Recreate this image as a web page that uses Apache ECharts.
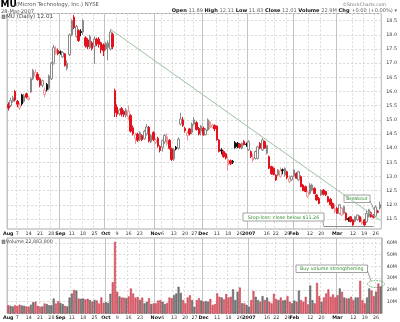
<!DOCTYPE html>
<html>
<head>
<meta charset="utf-8">
<title>MU daily</title>
<script src="https://cdn.jsdelivr.net/npm/echarts@6.0.0/dist/echarts.min.js"></script>
<style>
html,body{margin:0;padding:0;background:#fff;}
#chart{width:400px;height:322px;}
</style>
</head>
<body>
<div id="chart"></div>
<script>
// Trading sessions, by month (day of month)
const sessions = {
  '2006-08': [1,2,3,4,7,8,9,10,11,14,15,16,17,18,21,22,23,24,25,28,29,30,31],
  '2006-09': [1,5,6,7,8,11,12,13,14,15,18,19,20,21,22,25,26,27,28,29],
  '2006-10': [2,3,4,5,6,9,10,11,12,13,16,17,18,19,20,23,24,25,26,27,30,31],
  '2006-11': [1,2,3,6,7,8,9,10,13,14,15,16,17,20,21,22,24,27,28,29,30],
  '2006-12': [1,4,5,6,7,8,11,12,13,14,15,18,19,20,21,22,26,27,28,29],
  '2007-01': [3,4,5,8,9,10,11,12,16,17,18,19,22,23,24,25,26,29,30,31],
  '2007-02': [1,2,5,6,7,8,9,12,13,14,15,16,20,21,22,23,26,27,28],
  '2007-03': [1,2,5,6,7,8,9,12,13,14,15,16,19,20,21,22,23,26,27,28]
};

// Daily prices (USD)
const open = [
  15.54,15.50,15.65,16.00,15.66,15.42,15.88,15.65,15.92,15.72,
  15.98,16.45,16.55,16.60,16.45,16.22,15.90,16.25,16.10,16.45,
  17.00,17.35,17.45,17.40,17.22,17.33,16.82,17.30,18.00,18.62,
  17.95,18.15,18.12,18.10,17.90,17.82,17.55,17.72,17.60,17.85,
  17.85,17.72,17.65,17.50,17.55,17.50,18.02,16.03,15.45,15.22,
  15.40,15.30,15.15,15.10,15.15,14.72,14.35,14.50,14.30,14.45,
  14.33,14.50,14.74,14.22,14.55,14.20,14.35,14.06,14.03,14.22,
  14.15,14.28,13.98,13.62,14.03,14.00,14.85,15.00,14.70,14.45,
  14.68,14.55,14.85,14.90,14.70,14.60,14.70,14.48,14.64,14.72,
  14.74,14.80,14.78,14.29,13.94,13.88,13.80,13.40,13.56,13.54,
  14.20,14.17,14.15,14.00,14.24,14.15,13.94,13.88,13.58,13.64,
  13.64,14.17,13.94,14.23,13.82,13.70,13.35,13.29,13.05,13.05,
  13.00,13.24,13.05,13.17,12.82,12.88,13.00,13.11,12.88,13.00,
  12.70,12.64,12.30,12.40,12.52,12.58,12.35,12.23,12.35,12.52,
  12.47,12.29,12.20,12.05,11.76,11.88,11.70,11.64,11.70,11.70,
  11.52,11.58,11.47,11.41,11.47,11.58,11.35,11.47,11.40,11.58,
  11.72,11.64,11.60,11.78,11.89
];
const high = [
  15.62,15.78,15.85,16.05,15.70,15.60,15.92,15.92,15.96,15.85,
  16.50,16.80,16.78,16.68,16.50,16.42,16.15,16.30,16.60,17.05,
  17.65,17.60,17.52,17.45,17.42,17.36,17.10,18.05,18.55,18.70,
  18.35,18.20,18.20,18.55,17.95,17.88,18.00,17.78,17.95,17.90,
  17.92,17.76,17.70,17.75,17.80,18.20,18.08,16.10,15.55,15.40,
  15.45,15.35,15.42,15.50,15.20,14.80,14.55,14.55,14.60,14.50,
  14.65,14.85,14.78,14.50,14.60,14.35,14.40,14.10,14.30,14.50,
  14.52,14.32,14.02,14.00,14.08,14.38,15.25,15.10,14.75,14.60,
  14.72,14.90,15.10,14.95,14.75,14.82,14.76,14.70,15.05,14.98,
  14.86,14.84,14.80,14.32,14.00,13.92,13.84,13.72,13.60,13.58,
  14.25,14.22,14.18,14.20,14.28,14.20,14.28,13.92,13.80,13.92,
  14.08,14.22,14.35,14.27,14.12,13.74,13.38,13.32,13.08,13.26,
  13.32,13.28,13.32,13.20,13.04,13.04,13.26,13.15,13.20,13.04,
  12.74,12.68,12.50,12.76,12.75,12.62,12.38,12.28,12.55,12.56,
  12.50,12.32,12.24,12.08,12.02,11.92,12.03,11.92,11.97,11.74,
  11.56,11.60,11.50,11.60,11.66,11.62,11.55,11.50,11.82,11.86,
  11.76,11.67,11.98,11.82,12.11
];
const low = [
  15.33,15.45,15.60,15.65,15.45,15.35,15.50,15.60,15.75,15.68,
  15.95,16.40,16.50,16.38,16.15,16.15,15.80,16.00,16.05,16.40,
  16.95,17.30,17.28,17.30,17.18,16.88,16.74,17.25,17.95,18.20,
  17.90,17.75,17.95,18.00,17.55,17.50,17.50,17.45,16.98,17.60,
  17.55,17.35,17.25,17.45,17.10,17.45,17.50,15.10,15.10,15.15,
  15.12,15.10,15.08,15.00,14.55,14.45,14.15,14.22,14.25,14.25,
  14.30,14.45,14.20,14.18,14.25,14.15,14.02,13.85,13.88,14.15,
  14.10,13.95,13.55,13.55,13.92,13.95,14.80,14.75,14.55,14.27,
  14.45,14.50,14.80,14.62,14.45,14.45,14.44,14.45,14.60,14.66,
  14.70,14.60,14.26,13.85,13.78,13.66,13.60,13.20,13.40,13.44,
  13.98,14.00,13.98,13.96,14.10,14.05,13.90,13.65,13.52,13.60,
  13.60,13.96,13.90,13.98,13.78,13.26,13.06,13.04,12.84,13.00,
  12.96,13.08,13.00,12.90,12.78,12.85,12.98,12.92,12.85,12.62,
  12.48,12.45,12.25,12.36,12.48,12.38,12.15,12.02,12.30,12.33,
  12.31,12.08,11.97,11.85,11.70,11.68,11.66,11.60,11.66,11.44,
  11.40,11.38,11.26,11.38,11.44,11.38,11.30,11.26,11.36,11.55,
  11.55,11.52,11.56,11.70,11.83
];
const close = [
  15.42,15.68,15.78,15.70,15.55,15.52,15.56,15.85,15.80,15.78,
  16.45,16.75,16.68,16.42,16.22,16.38,16.05,16.06,16.55,17.00,
  17.55,17.50,17.33,17.36,17.38,16.92,17.00,18.00,18.50,18.25,
  18.30,17.80,18.08,18.50,17.62,17.58,17.95,17.52,17.85,17.68,
  17.66,17.47,17.44,17.70,17.72,18.10,17.58,15.25,15.20,15.35,
  15.20,15.18,15.35,15.30,14.60,14.50,14.47,14.28,14.55,14.30,
  14.60,14.75,14.25,14.45,14.30,14.28,14.08,13.92,14.27,14.45,
  14.40,14.00,13.60,13.95,13.97,14.32,15.03,14.80,14.62,14.55,
  14.50,14.85,15.00,14.66,14.50,14.78,14.47,14.65,15.00,14.94,
  14.82,14.68,14.30,13.88,13.90,13.70,13.65,13.60,13.45,13.50,
  14.02,14.05,14.03,14.17,14.12,14.13,14.23,13.70,13.68,13.88,
  14.05,14.00,14.29,14.00,14.10,13.29,13.10,13.08,12.88,13.23,
  13.20,13.21,13.29,12.96,12.92,13.00,13.23,12.94,13.17,12.64,
  12.50,12.47,12.45,12.70,12.70,12.40,12.17,12.05,12.52,12.37,
  12.35,12.11,12.00,11.88,11.86,11.70,12.00,11.88,11.94,11.47,
  11.48,11.41,11.29,11.58,11.64,11.41,11.40,11.29,11.70,11.82,
  11.58,11.56,11.92,11.74,12.01
];
const priorClose = 15.60;

// Daily volume, millions of shares
const volume = [
  7,6.5,6,7,6.5,7.5,6.8,6.5,6,5.8,
  7.5,9.5,10,6.5,5.8,6,8.5,8,7,7,
  12.7,8.5,10.5,9,8,6.5,6,13.6,17,20,
  19.5,12.7,12.5,12.7,12,12.5,11.5,10,11.5,11,
  8.5,13.6,9,9.5,9,16.8,26.6,60.9,18.5,14.5,
  13.5,13.5,13,14.5,21.3,17,13.5,14,11.4,13.5,
  8.6,10,13,8,8.6,8.6,11,11.4,10,8,
  9,13.6,13,15.5,17,22.7,17.5,11.4,8.6,13.6,
  15.5,11.4,5.7,11.4,13,11,10,10.5,10,12.5,
  7.3,8,17.1,14.2,13.6,12,16.5,13.6,14.2,20.5,
  11.4,18.5,22,8.6,8.6,7.3,5.7,11.4,19.2,14.2,
  11.4,10,14.8,11.4,13.6,10,8.6,16.8,12.3,11.4,
  13.6,11,11.4,14.8,10,8.6,11,10,19.5,11.4,
  10,14.2,7.8,23.8,11.4,8.6,26.1,14.8,10,13.6,
  17,20.5,14.2,16.2,13.6,15.5,21.3,18.5,13.6,12.8,
  12.8,14.2,11.4,13.6,13.6,27.8,11.4,8.6,13.6,21.3,
  19.5,14.8,18.5,25.5,22.8838
];

// Date-axis tick labels
const tickLabels = {
  '2006-08-01':'Aug','2006-08-07':'7','2006-08-14':'14','2006-08-21':'21','2006-08-28':'28',
  '2006-09-01':'Sep','2006-09-11':'11','2006-09-18':'18','2006-09-25':'25',
  '2006-10-02':'Oct','2006-10-09':'9','2006-10-16':'16','2006-10-23':'23',
  '2006-11-01':'Nov','2006-11-06':'6','2006-11-13':'13','2006-11-20':'20','2006-11-27':'27',
  '2006-12-01':'Dec','2006-12-11':'11','2006-12-18':'18','2006-12-26':'26',
  '2007-01-03':'2007','2007-01-16':'16','2007-01-22':'22','2007-01-29':'29',
  '2007-02-01':'Feb','2007-02-12':'12','2007-02-20':'20',
  '2007-03-01':'Mar','2007-03-12':'12','2007-03-19':'19','2007-03-26':'26'
};
const monthLabels = ['Aug','Sep','Oct','Nov','Dec','2007','Feb','Mar'];

// Trendline anchors and stop level
const trendStart = {index: 45, price: 18.20};
const trendEnd = {index: 164, price: 11.45};
const stopLevel = 11.26;
const stopSpan = [139, 161];

const dates = [];
Object.keys(sessions).forEach(function (ym) {
  sessions[ym].forEach(function (d) { dates.push(ym + '-' + (d < 10 ? '0' : '') + d); });
});

const FONT = "'DejaVu Sans', Verdana, sans-serif";
const RED = '#e3121c', PINK = '#f29494', GREY = '#8a8a8a', BLACK = '#111111';

function isTick(v) { return Object.prototype.hasOwnProperty.call(tickLabels, v); }
function isMonth(v) { return isTick(v) && monthLabels.indexOf(tickLabels[v]) >= 0; }
function onStep(v, step) { const q = v / step; return Math.abs(q - Math.round(q)) < 1e-6; }
function isDown(i) { return close[i] < (i === 0 ? priorClose : close[i - 1]); }

const candleData = dates.map(function (d, i) {
  const hollow = close[i] >= open[i];
  const down = isDown(i);
  const c = down ? (hollow ? PINK : RED) : (hollow ? GREY : BLACK);
  const fill = hollow ? '#ffffff' : c;
  return {
    value: [open[i], close[i], low[i], high[i]],
    itemStyle: {color: fill, color0: fill, borderColor: c, borderColor0: c, borderWidth: 1}
  };
});

const volumeData = volume.map(function (v, i) {
  const down = isDown(i);
  return {
    value: v,
    itemStyle: {
      color: down ? '#e2636f' : '#818181',
      borderColor: down ? '#c03444' : '#4a4a4a',
      borderWidth: 0.5
    }
  };
});

function dateAxes(gridIndex) {
  return [
    {
      type: 'category', gridIndex: gridIndex, data: dates, boundaryGap: true,
      axisLine: {show: false}, axisTick: {show: false},
      axisLabel: {
        interval: function (i, v) { return isTick(v); },
        formatter: function (v) { return isMonth(v) ? '{b|' + tickLabels[v] + '}' : tickLabels[v]; },
        fontSize: 4.8, fontFamily: FONT, color: '#333', margin: 2,
        rich: {b: {fontSize: 4.8, fontFamily: FONT, fontWeight: 'bold', color: '#111'}}
      },
      splitLine: {
        show: true,
        interval: function (i, v) { return isTick(v) && !isMonth(v); },
        lineStyle: {color: '#dadada', width: 1, type: [2, 2]}
      }
    },
    {
      type: 'category', gridIndex: gridIndex, data: dates, boundaryGap: true, position: 'bottom',
      axisLine: {show: false}, axisTick: {show: false}, axisLabel: {show: false},
      splitLine: {
        show: true,
        interval: function (i, v) { return isMonth(v); },
        lineStyle: {color: '#c2c2c2', width: 1}
      }
    }
  ];
}

const chart = echarts.init(document.getElementById('chart'), null, {renderer: 'canvas'});

chart.setOption({
  animation: false,
  backgroundColor: '#ffffff',
  grid: [
    {left: 1, right: 18, top: 13.5, bottom: 93, show: true, borderColor: '#a8a8a8', borderWidth: 1, containLabel: false},
    {left: 1, right: 18, top: 238, bottom: 8.5, show: true, borderColor: '#a8a8a8', borderWidth: 1, containLabel: false}
  ],
  xAxis: dateAxes(0).concat(dateAxes(1)),
  yAxis: [
    {
      type: 'value', gridIndex: 0, position: 'right', min: 11.147, max: 18.754,
      minInterval: 0.5, maxInterval: 0.5, splitNumber: 15,
      axisLine: {show: false}, axisTick: {show: false},
      axisLabel: {
        fontSize: 4.8, fontFamily: FONT, color: '#333', margin: 5,
        formatter: function (v) { return onStep(v, 0.5) ? v.toFixed(1) : ''; }
      },
      splitLine: {lineStyle: {color: '#d6d6d6', width: 1, type: [2, 2]}}
    },
    {
      type: 'value', gridIndex: 1, position: 'right', min: 0, max: 64.1,
      minInterval: 10, maxInterval: 10, splitNumber: 6,
      axisLine: {show: false}, axisTick: {show: false},
      axisLabel: {
        fontSize: 4.8, fontFamily: FONT, color: '#333', margin: 5,
        formatter: function (v) { return (v > 0 && onStep(v, 10)) ? v + 'M' : ''; }
      },
      splitLine: {lineStyle: {color: '#d6d6d6', width: 1, type: [2, 2]}}
    }
  ],
  series: [
    {
      name: 'MU', type: 'candlestick', xAxisIndex: 0, yAxisIndex: 0,
      barWidth: 2, data: candleData,
      markLine: {
        silent: true, symbol: ['none', 'none'], animation: false, label: {show: false},
        data: [
          [
            {coord: [dates[trendStart.index], trendStart.price], lineStyle: {color: '#9fc29f', width: 1, type: 'solid'}},
            {coord: [dates[trendEnd.index], trendEnd.price]}
          ],
          [
            {coord: [dates[stopSpan[0]], stopLevel], lineStyle: {color: '#8c8c8c', width: 1, type: 'solid'}},
            {coord: [dates[stopSpan[1]], stopLevel]}
          ]
        ]
      }
    },
    {
      name: 'Volume', type: 'bar', xAxisIndex: 2, yAxisIndex: 1,
      barWidth: '86%', data: volumeData
    }
  ]
});

// Header, legends and annotations
const pricePt = function (i, p) { return chart.convertToPixel({seriesIndex: 0}, [dates[i], p]); };
const volPt = function (i, v) { return chart.convertToPixel({seriesIndex: 1}, [dates[i], v]); };
const breakoutPt = pricePt(162, 11.71);
const stopPt = pricePt(stopSpan[0], stopLevel);
const ringPt = volPt(162, 25);
const GREEN = '#2f8f2f';
const last = close.length - 1;

function box(x, y, w, h, label) {
  return {
    type: 'group', x: x, y: y,
    children: [
      {type: 'rect', shape: {x: 0, y: 0, width: w, height: h}, style: {fill: '#ffffff', stroke: '#8a8a8a', lineWidth: 0.8}},
      {type: 'text', x: w / 2, y: h / 2 + 0.3, style: {text: label, font: '4.8px ' + FONT, fill: GREEN, textAlign: 'center', textVerticalAlign: 'middle'}}
    ]
  };
}

chart.setOption({
  graphic: [
    {type: 'text', x: 0.5, y: 4.8, style: {text: 'MU', font: 'bold 9px ' + FONT, fill: '#000', textVerticalAlign: 'middle'}},
    {type: 'text', x: 16, y: 5, style: {text: '(Micron Technology, Inc.) NYSE', font: '5.4px ' + FONT, fill: '#555', textVerticalAlign: 'middle'}},
    {type: 'text', x: 1, y: 11.2, style: {text: '28-Mar-2007', font: '5.2px ' + FONT, fill: '#555', textVerticalAlign: 'middle'}},
    {type: 'text', x: 386, y: 4.5, style: {text: '\u00A9StockCharts.com', font: '4.6px ' + FONT, fill: '#777', textAlign: 'right', textVerticalAlign: 'middle'}},
    {
      type: 'text', x: 397, y: 11,
      style: {
        text: '{b|Open} ' + open[last].toFixed(2) + ' {b|High} ' + high[last].toFixed(2) +
              ' {b|Low} ' + low[last].toFixed(2) + ' {b|Close} ' + close[last].toFixed(2) +
              ' {b|Volume} ' + volume[last].toFixed(1) + 'M {b|Chg} +0.00 (+0.00%) \u25BE',
        font: '5.1px ' + FONT, fill: '#666', textAlign: 'right', textVerticalAlign: 'middle',
        rich: {b: {fontSize: 5.1, fontFamily: FONT, fontWeight: 'bold', fill: '#111'}}
      }
    },
    {type: 'rect', shape: {x: 2, y: 15, width: 3, height: 3.5}, style: {fill: '#9a9a9a', stroke: '#555', lineWidth: 0.5}},
    {type: 'text', x: 6, y: 17, style: {text: 'MU (Daily) ' + close[last].toFixed(2), font: '5.6px ' + FONT, fill: '#444', textVerticalAlign: 'middle'}},
    {type: 'rect', shape: {x: 2, y: 240, width: 3, height: 3.5}, style: {fill: '#9a9a9a', stroke: '#555', lineWidth: 0.5}},
    {type: 'text', x: 6, y: 242, style: {text: 'Volume ' + Math.round(volume[last] * 1e6).toLocaleString('en-US'), font: '4.8px ' + FONT, fill: '#444', textVerticalAlign: 'middle'}},

    box(344, 195, 26, 7.5, 'Breakout'),
    {type: 'line', shape: {x1: 370, y1: 201, x2: breakoutPt[0], y2: breakoutPt[1]}, style: {stroke: '#777', lineWidth: 0.7}},
    box(243, 213, 81, 8, 'Stop-loss: close below $11.26'),
    {type: 'line', shape: {x1: 323, y1: 221, x2: stopPt[0], y2: stopPt[1]}, style: {stroke: '#777', lineWidth: 0.7}},
    box(296, 265, 71.5, 7.5, 'Buy volume strengthening'),
    {type: 'line', shape: {x1: 367.5, y1: 271, x2: ringPt[0] - 5, y2: ringPt[1] - 3}, style: {stroke: '#777', lineWidth: 0.7}},
    {type: 'ellipse', shape: {cx: ringPt[0], cy: ringPt[1], rx: 8.5, ry: 3.5}, style: {fill: 'none', stroke: '#4a9a4a', lineWidth: 0.7, lineDash: [1.5, 1]}}
  ]
});
</script>
</body>
</html>
